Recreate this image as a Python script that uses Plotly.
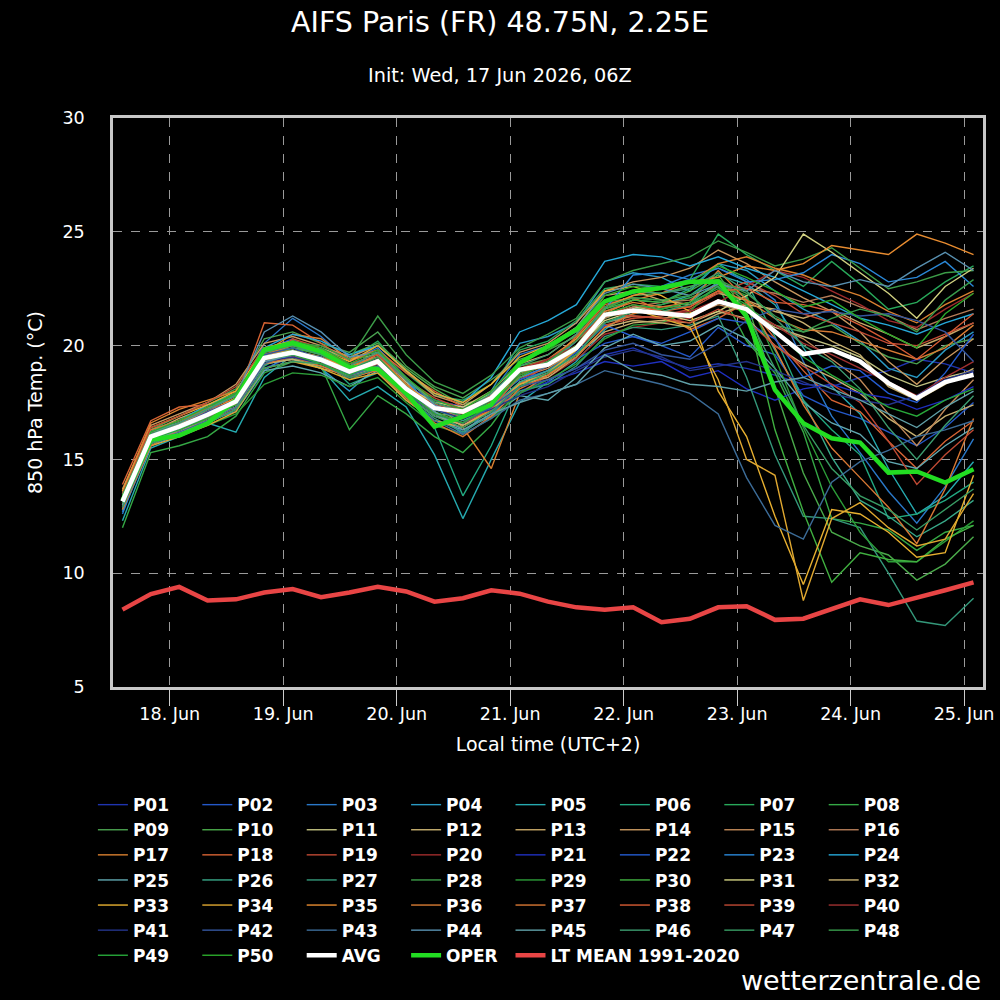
import plotly.graph_objects as go
import pandas as pd

# 6-hourly forecast steps (local time, UTC+2)
times = pd.date_range("2026-06-17 14:00", periods=31, freq="6h")

avg = [13.15, 16.0, 16.44, 16.96, 17.54, 19.45, 19.7, 19.38, 18.86, 19.3,
       18.1, 17.25, 17.1, 17.7, 18.94, 19.16, 19.89, 21.35, 21.54, 21.43,
       21.3, 21.94, 21.6, 20.62, 19.63, 19.82, 19.3, 18.35, 17.69, 18.4, 18.72]
oper = [13.2, 15.86, 16.05, 16.59, 17.62, 19.82, 20.11, 19.74, 19.05, 18.97,
        17.91, 16.44, 16.88, 17.4, 19.23, 19.96, 20.7, 21.94, 22.38, 22.53,
        22.8, 22.82, 21.28, 18.06, 16.59, 15.93, 15.74, 14.42, 14.47, 13.98, 14.57]
lt_mean = [8.4, 9.08, 9.4, 8.8, 8.85, 9.15, 9.3, 8.95, 9.15, 9.4,
           9.2, 8.75, 8.9, 9.25, 9.1, 8.75, 8.5, 8.4, 8.5, 7.85,
           8.0, 8.5, 8.55, 7.95, 8.0, 8.45, 8.85, 8.6, 8.9, 9.25, 9.6]

p01 = [13.0, 15.8, 16.3, 16.8, 17.4, 19.0, 19.5, 19.2, 18.6, 19.0, 17.8, 16.9, 16.6, 17.2, 18.0, 18.5, 19.0, 19.6, 19.9, 19.4, 19.0, 19.2, 19.0, 18.7, 18.3, 18.2, 18.6, 18.9, 19.4, 19.2, 18.8]
p02 = [13.4, 16.2, 16.6, 17.1, 17.9, 19.8, 20.3, 19.6, 19.0, 19.4, 18.2, 17.0, 16.2, 17.0, 18.3, 18.9, 19.4, 20.1, 20.4, 20.0, 19.5, 20.8, 20.0, 19.6, 17.8, 17.2, 16.8, 16.2, 15.6, 16.4, 17.5]
p03 = [12.6, 15.9, 16.6, 17.0, 17.6, 20.1, 21.2, 20.4, 19.3, 19.9, 18.6, 17.4, 16.8, 17.9, 19.6, 20.0, 20.6, 22.0, 22.3, 22.6, 23.1, 23.4, 22.9, 22.0, 19.3, 16.9, 15.3, 13.6, 12.2, 13.8, 15.9]
p04 = [13.6, 16.1, 16.5, 17.3, 17.2, 19.6, 19.4, 19.0, 18.0, 19.1, 18.4, 17.6, 17.2, 18.0, 20.1, 20.4, 21.0, 22.8, 23.2, 23.0, 22.4, 23.6, 23.3, 22.4, 21.6, 21.0, 20.2, 19.0, 18.6, 19.8, 20.6]
p05 = [12.3, 15.5, 16.0, 16.6, 16.2, 18.6, 19.6, 19.0, 17.6, 18.2, 17.3, 15.2, 12.4, 15.0, 17.5, 18.4, 19.3, 20.7, 21.6, 21.8, 22.2, 23.1, 22.7, 21.8, 19.9, 18.2, 17.0, 14.6, 12.6, 13.4, 14.9]
p06 = [13.1, 15.7, 16.2, 16.9, 17.4, 19.1, 19.8, 19.5, 18.3, 18.8, 17.9, 16.4, 13.4, 15.6, 18.4, 18.9, 19.8, 21.5, 22.0, 21.9, 22.5, 23.6, 22.8, 20.4, 17.6, 16.3, 15.2, 12.4, 12.6, 13.2, 14.0]
p07 = [13.3, 16.0, 16.5, 17.2, 17.8, 19.9, 20.0, 19.8, 19.4, 20.2, 18.8, 17.8, 17.6, 18.3, 19.8, 20.2, 21.1, 22.5, 22.7, 22.6, 22.9, 24.9, 24.0, 23.3, 22.6, 23.7, 22.7, 21.6, 21.9, 22.8, 23.5]
p08 = [12.0, 15.3, 15.6, 16.0, 16.9, 18.8, 19.3, 19.1, 16.3, 17.8, 17.0, 16.0, 15.3, 16.5, 18.2, 18.7, 19.5, 21.2, 21.6, 21.8, 22.1, 22.6, 20.2, 18.8, 16.2, 12.4, 12.2, 11.9, 11.0, 11.8, 12.1]
p09 = [13.5, 16.3, 16.9, 17.5, 18.1, 20.3, 20.6, 20.1, 19.7, 20.6, 19.1, 18.2, 17.7, 18.5, 19.4, 19.8, 20.4, 21.9, 22.1, 22.0, 21.8, 22.4, 21.7, 20.9, 20.6, 20.9, 20.1, 19.5, 19.2, 20.0, 20.3]
p10 = [13.0, 15.9, 16.4, 17.0, 17.6, 19.7, 19.9, 19.7, 19.6, 20.1, 19.0, 18.1, 17.4, 17.8, 19.1, 19.4, 20.3, 21.6, 22.2, 22.3, 22.6, 22.9, 21.9, 18.1, 14.4, 11.8, 11.2, 10.8, 9.7, 10.4, 11.6]
p11 = [13.2, 16.1, 16.6, 17.1, 17.5, 19.6, 19.8, 19.3, 19.1, 19.7, 18.4, 17.3, 17.0, 17.6, 18.8, 19.3, 20.2, 21.3, 21.7, 21.5, 21.4, 22.0, 21.5, 20.8, 20.4, 20.0, 19.5, 18.7, 18.2, 18.6, 18.9]
p12 = [12.8, 15.7, 16.2, 16.8, 17.3, 19.2, 19.4, 19.0, 18.7, 19.2, 18.0, 17.0, 16.5, 17.1, 18.4, 18.7, 19.6, 20.6, 21.0, 21.1, 21.0, 21.5, 21.2, 20.0, 19.2, 18.6, 17.9, 16.8, 16.0, 16.9, 17.4]
p13 = [13.3, 16.2, 16.8, 17.3, 17.9, 19.9, 20.2, 19.9, 19.4, 19.6, 18.5, 17.6, 17.3, 18.0, 19.2, 19.6, 20.5, 22.2, 22.4, 22.0, 21.8, 22.3, 22.0, 21.5, 21.2, 21.6, 21.0, 20.5, 19.9, 20.4, 21.0]
p14 = [13.7, 16.5, 17.0, 17.5, 18.3, 20.1, 20.4, 20.0, 19.5, 20.0, 18.9, 17.8, 17.4, 18.3, 19.7, 20.1, 21.0, 22.4, 22.8, 23.0, 23.4, 24.2, 23.6, 22.8, 22.1, 21.5, 20.6, 19.3, 18.3, 19.4, 20.3]
p15 = [13.2, 16.0, 16.4, 16.9, 17.6, 19.5, 19.6, 19.2, 18.8, 19.0, 17.9, 17.0, 16.9, 17.5, 18.6, 19.0, 19.8, 21.0, 21.3, 21.2, 21.3, 21.8, 21.5, 20.9, 20.3, 19.4, 18.5, 17.0, 15.6, 17.2, 18.5]
p16 = [12.9, 15.8, 16.3, 16.8, 17.3, 19.4, 19.5, 19.2, 18.7, 19.3, 18.3, 17.4, 17.2, 17.6, 18.9, 19.3, 20.0, 21.2, 21.7, 21.9, 22.0, 22.7, 22.5, 22.3, 21.9, 22.2, 21.7, 21.3, 20.7, 21.2, 21.6]
p17 = [13.6, 16.6, 17.2, 17.6, 18.0, 19.7, 20.5, 20.3, 19.4, 19.8, 18.6, 17.5, 16.4, 14.6, 17.9, 18.7, 19.9, 21.4, 22.0, 22.3, 22.8, 23.6, 23.9, 23.4, 23.1, 22.6, 22.2, 21.5, 21.0, 21.8, 22.4]
p18 = [13.9, 16.7, 17.3, 17.4, 17.6, 21.0, 20.9, 20.1, 19.3, 19.8, 18.8, 18.0, 17.3, 16.8, 18.3, 19.2, 20.4, 21.8, 22.1, 21.5, 20.7, 21.2, 21.9, 20.3, 18.9, 17.6, 17.1, 15.8, 14.6, 15.8, 16.7]
p19 = [13.0, 15.9, 16.2, 16.7, 17.2, 19.3, 20.3, 19.9, 18.6, 19.1, 18.2, 17.6, 17.1, 17.8, 18.5, 19.1, 19.9, 20.9, 21.2, 21.3, 21.6, 22.3, 22.8, 22.2, 21.4, 21.0, 20.6, 20.1, 20.0, 20.5, 21.0]
p20 = [13.1, 16.1, 16.6, 17.1, 17.7, 19.3, 19.6, 19.2, 18.8, 19.2, 18.1, 17.4, 17.0, 17.5, 18.2, 18.6, 19.4, 20.5, 20.8, 21.0, 21.2, 21.9, 22.6, 23.3, 23.0, 22.4, 21.8, 21.1, 20.8, 21.6, 22.3]
p21 = [13.3, 15.9, 16.4, 16.9, 17.5, 19.3, 19.6, 19.4, 18.8, 19.4, 18.2, 17.6, 17.3, 17.4, 17.9, 18.4, 18.8, 19.3, 19.1, 19.3, 18.6, 18.9, 18.1, 17.6, 18.1, 18.3, 17.9, 17.7, 17.2, 17.6, 18.2]
p22 = [13.2, 16.0, 16.3, 16.8, 17.6, 19.5, 19.8, 19.5, 18.9, 19.2, 18.0, 17.2, 16.9, 17.6, 18.5, 18.9, 19.7, 20.9, 20.4, 20.1, 20.6, 21.2, 21.0, 20.3, 18.6, 19.1, 18.9, 17.9, 17.5, 18.8, 20.5]
p23 = [12.7, 15.6, 16.1, 16.7, 17.1, 18.9, 19.7, 19.9, 19.2, 19.5, 18.5, 17.1, 16.1, 17.3, 18.6, 19.1, 20.2, 21.6, 23.1, 23.2, 22.9, 23.4, 22.8, 22.9, 23.2, 24.0, 23.6, 22.8, 23.0, 23.7, 22.6]
p24 = [13.4, 16.2, 16.7, 17.4, 17.9, 19.9, 20.5, 20.2, 19.6, 20.0, 18.9, 17.9, 17.5, 18.6, 20.6, 21.1, 21.8, 23.7, 24.0, 23.9, 23.5, 23.9, 23.4, 23.0, 22.4, 21.8, 21.2, 20.9, 20.5, 21.0, 21.4]
p25 = [13.0, 15.7, 16.2, 16.6, 17.2, 18.9, 19.1, 18.8, 18.2, 18.9, 17.6, 16.7, 16.3, 16.9, 17.8, 17.6, 18.6, 19.9, 20.5, 20.0, 20.2, 20.9, 20.3, 19.0, 17.5, 16.6, 16.1, 14.9, 14.6, 15.6, 16.4]
p26 = [13.5, 16.3, 16.7, 17.3, 17.9, 19.6, 19.9, 19.7, 19.0, 19.5, 18.3, 17.2, 16.7, 17.3, 18.4, 18.9, 19.6, 21.0, 21.4, 21.6, 21.9, 22.8, 22.1, 19.8, 17.6, 15.1, 13.2, 12.5, 11.6, 12.3, 13.2]
p27 = [12.8, 15.8, 16.4, 16.7, 17.3, 19.2, 19.4, 19.3, 18.5, 19.0, 17.7, 16.8, 16.2, 17.0, 18.0, 18.3, 19.1, 20.4, 20.8, 20.7, 20.9, 21.3, 18.6, 15.2, 12.5, 12.4, 12.0, 10.0, 7.9, 7.7, 8.9]
p28 = [13.4, 16.1, 16.6, 17.2, 17.9, 19.7, 20.1, 20.0, 19.4, 21.3, 19.6, 18.4, 17.9, 18.7, 19.9, 20.5, 21.2, 22.8, 23.3, 23.6, 23.9, 24.6, 24.1, 23.5, 23.8, 24.3, 23.4, 22.5, 22.8, 23.2, 23.3]
p29 = [13.1, 15.8, 16.1, 16.5, 17.0, 18.3, 18.8, 18.7, 18.2, 18.6, 17.5, 16.5, 16.1, 16.8, 17.9, 18.5, 19.2, 20.3, 20.9, 21.0, 21.5, 22.7, 22.2, 19.5, 16.4, 13.8, 11.8, 10.5, 10.5, 11.4, 12.3]
p30 = [13.2, 16.0, 16.4, 16.9, 17.5, 19.4, 19.9, 19.6, 18.9, 19.3, 18.0, 17.1, 16.6, 17.4, 18.6, 19.3, 20.0, 21.6, 22.0, 21.9, 22.4, 23.1, 21.5, 16.3, 12.7, 9.6, 10.9, 10.6, 10.5, 11.5, 12.1]
p31 = [13.3, 16.0, 16.5, 17.0, 17.4, 19.5, 19.7, 19.3, 18.9, 19.4, 18.2, 17.5, 17.3, 17.9, 19.0, 19.2, 19.9, 21.1, 21.5, 21.4, 21.1, 21.5, 22.2, 23.0, 24.9, 24.1, 23.2, 22.3, 21.2, 22.6, 23.4]
p32 = [13.0, 15.8, 16.2, 16.7, 17.3, 19.2, 19.4, 19.1, 18.7, 19.0, 17.8, 16.9, 16.5, 17.2, 18.3, 18.6, 19.5, 20.8, 21.1, 21.0, 20.8, 21.4, 21.8, 21.6, 21.0, 20.2, 19.6, 18.2, 17.6, 18.3, 19.0]
p33 = [13.6, 16.4, 16.9, 17.4, 18.0, 19.9, 20.2, 19.8, 19.3, 20.0, 18.9, 17.9, 17.5, 18.3, 19.5, 20.0, 20.8, 22.4, 22.6, 22.2, 21.5, 18.0, 16.0, 12.5, 9.5, 12.8, 12.6, 11.8, 10.7, 10.9, 14.3]
p34 = [12.9, 15.6, 16.0, 16.5, 17.1, 19.0, 19.3, 19.0, 18.5, 18.8, 17.6, 16.7, 16.4, 17.2, 18.3, 18.8, 19.8, 21.3, 21.6, 21.2, 20.8, 18.5, 15.0, 14.3, 8.8, 12.4, 13.1, 12.0, 11.2, 11.5, 13.5]
p35 = [13.2, 16.2, 16.6, 17.1, 17.7, 19.6, 19.8, 19.5, 19.0, 19.6, 18.3, 17.3, 16.8, 17.5, 18.8, 19.4, 20.3, 21.7, 22.2, 22.5, 22.8, 23.0, 23.5, 23.3, 23.6, 24.4, 24.2, 24.0, 24.9, 24.5, 24.0]
p36 = [13.4, 16.3, 16.7, 17.2, 17.8, 19.6, 20.0, 19.7, 19.1, 19.5, 18.3, 17.2, 17.0, 17.6, 18.8, 19.1, 20.0, 21.5, 21.9, 21.7, 21.7, 22.4, 22.0, 21.2, 20.7, 20.6, 20.2, 19.8, 19.4, 19.9, 20.9]
p37 = [12.8, 15.6, 16.3, 16.8, 17.5, 19.2, 19.5, 19.1, 18.6, 18.9, 17.7, 16.6, 16.0, 16.9, 18.1, 18.7, 19.5, 20.8, 21.4, 21.7, 21.9, 23.3, 22.0, 19.9, 17.4, 15.5, 14.2, 12.9, 11.3, 13.7, 16.8]
p38 = [13.1, 16.0, 16.6, 17.3, 17.4, 19.3, 19.7, 19.4, 18.9, 19.2, 18.1, 17.0, 16.6, 17.2, 18.7, 19.2, 20.0, 21.3, 21.8, 21.5, 21.7, 22.4, 22.5, 21.9, 21.8, 21.5, 20.9, 20.2, 19.4, 20.4, 21.4]
p39 = [13.5, 16.4, 16.9, 17.5, 18.2, 19.9, 20.1, 19.8, 19.2, 19.6, 18.5, 17.7, 17.2, 17.8, 19.0, 19.4, 20.2, 21.4, 21.3, 21.2, 21.0, 21.6, 21.1, 20.0, 19.1, 18.3, 17.5, 15.8, 13.9, 15.2, 16.3]
p40 = [13.0, 15.9, 16.4, 17.0, 17.6, 19.4, 19.7, 19.3, 18.9, 19.2, 18.1, 17.3, 17.1, 17.7, 18.9, 19.4, 20.0, 21.3, 21.6, 21.4, 21.5, 22.0, 21.6, 20.9, 20.1, 19.6, 19.0, 18.4, 17.8, 18.6, 19.3]
p41 = [13.1, 15.9, 16.4, 16.9, 17.5, 19.3, 19.5, 19.2, 18.6, 19.0, 17.9, 17.2, 16.8, 17.2, 17.8, 18.2, 18.9, 19.5, 19.8, 19.5, 18.9, 19.1, 19.3, 18.9, 18.4, 17.9, 17.6, 17.4, 17.8, 18.5, 18.9]
p42 = [13.3, 16.1, 16.5, 17.1, 17.6, 19.6, 19.9, 19.4, 18.7, 19.1, 17.9, 17.0, 16.6, 17.3, 18.2, 18.5, 19.0, 19.8, 20.1, 19.6, 19.4, 20.1, 21.1, 21.6, 21.4, 21.5, 21.3, 21.4, 21.1, 20.6, 19.3]
p43 = [12.9, 15.7, 16.2, 16.7, 17.3, 19.2, 19.7, 19.5, 18.7, 19.1, 17.8, 16.7, 16.1, 16.8, 17.6, 17.9, 18.3, 18.9, 18.6, 18.3, 17.9, 17.0, 14.2, 12.1, 11.5, 14.0, 14.9, 15.4, 16.0, 16.3, 16.7]
p44 = [13.4, 16.2, 16.6, 17.2, 17.8, 20.6, 21.3, 20.6, 19.5, 19.7, 18.6, 17.4, 16.9, 17.7, 19.3, 19.9, 20.8, 22.3, 22.7, 22.5, 22.2, 22.7, 22.4, 23.3, 22.8, 22.6, 22.9, 22.6, 23.4, 24.1, 23.3]
p45 = [13.0, 15.8, 16.3, 16.9, 17.5, 19.3, 19.6, 19.3, 18.8, 19.3, 18.1, 17.1, 16.3, 17.0, 17.5, 17.9, 18.3, 19.6, 18.9, 18.7, 18.3, 18.2, 18.0, 18.4, 18.6, 18.1, 17.6, 17.0, 16.4, 17.3, 18.0]
p46 = [13.3, 16.1, 16.6, 17.2, 17.8, 19.7, 20.0, 19.6, 19.1, 19.7, 18.5, 17.5, 17.1, 17.9, 19.1, 19.6, 20.5, 22.0, 22.4, 22.3, 22.5, 23.2, 22.4, 21.2, 20.0, 19.3, 18.1, 16.4, 15.0, 16.5, 17.8]
p47 = [12.9, 15.7, 16.1, 16.6, 17.2, 19.0, 19.3, 19.2, 18.6, 19.0, 17.8, 16.9, 16.4, 17.1, 18.2, 18.8, 19.6, 21.0, 21.5, 21.5, 21.8, 22.6, 21.4, 19.0, 16.5, 14.6, 13.4, 12.8, 11.9, 12.8, 13.7]
p48 = [13.2, 16.0, 16.5, 17.0, 17.6, 19.5, 19.8, 19.4, 18.9, 19.5, 18.2, 17.3, 16.9, 17.6, 18.8, 19.3, 20.2, 21.7, 22.1, 22.0, 22.2, 22.9, 22.3, 21.3, 20.6, 21.2, 21.6, 21.3, 20.6, 22.0, 22.9]
p49 = [13.1, 15.9, 16.3, 16.8, 17.4, 19.4, 19.6, 19.2, 18.7, 19.3, 18.0, 17.0, 16.6, 17.4, 18.7, 19.2, 20.0, 21.4, 21.8, 21.6, 21.9, 22.5, 21.8, 20.6, 19.5, 18.7, 18.0, 17.3, 16.9, 17.6, 18.1]
p50 = [13.4, 16.2, 16.7, 17.3, 17.9, 19.8, 20.2, 19.9, 19.2, 19.8, 18.6, 17.6, 17.2, 18.0, 19.3, 19.8, 20.7, 22.2, 22.6, 22.5, 22.8, 23.5, 23.0, 22.4, 21.7, 22.0, 21.2, 20.5, 19.9, 21.4, 22.3]

member_names = ["P%02d" % k for k in range(1, 51)]
member_values = [p01, p02, p03, p04, p05, p06, p07, p08, p09, p10,
                 p11, p12, p13, p14, p15, p16, p17, p18, p19, p20,
                 p21, p22, p23, p24, p25, p26, p27, p28, p29, p30,
                 p31, p32, p33, p34, p35, p36, p37, p38, p39, p40,
                 p41, p42, p43, p44, p45, p46, p47, p48, p49, p50]
member_colors = [
    "#1f34b0", "#2458c8", "#2a78c8", "#2a9ac4", "#26aab0", "#22a880", "#28a85a", "#35a845", "#4aa250", "#4aaa4a",
    "#c0c080", "#c8b070", "#c8a868", "#c89860", "#c08858", "#b47c58", "#d88030", "#d86434", "#c04a34", "#a02c2c",
    "#1f30c0", "#245cd0", "#2a88d8", "#26a8d8", "#60a8b0", "#38a888", "#34987a", "#3c9c48", "#2c9c38", "#40b040",
    "#d0d080", "#c8b070", "#e8b030", "#e0a830", "#e88c30", "#d87c34", "#d87834", "#d85c34", "#c04a34", "#a03030",
    "#24348a", "#34569e", "#3c6c98", "#5890b0", "#60a0a8", "#3c9c70", "#389c64", "#389c4c", "#28a83a", "#2caa2c",
]

for name, vals in zip(member_names, member_values):
    if len(vals) != len(times):
        raise ValueError(f"{name} has {len(vals)} values")

FONT = "DejaVu Sans"
fig = go.Figure()

for k, (name, vals, col) in enumerate(zip(member_names, member_values, member_colors)):
    fig.add_trace(go.Scatter(x=times, y=vals, mode="lines", name=name,
                             line=dict(color=col, width=1.4), legendrank=k + 1))

fig.add_trace(go.Scatter(x=times, y=lt_mean, mode="lines", name="LT MEAN 1991-2020",
                         line=dict(color="#e84545", width=4.5), legendrank=53))
fig.add_trace(go.Scatter(x=times, y=oper, mode="lines", name="OPER",
                         line=dict(color="#22dd22", width=4.5), legendrank=52))
fig.add_trace(go.Scatter(x=times, y=avg, mode="lines", name="AVG",
                         line=dict(color="#ffffff", width=4.5), legendrank=51))

fig.update_layout(
    width=1000, height=1000,
    paper_bgcolor="black", plot_bgcolor="black",
    margin=dict(l=113, r=17, t=118, b=313, autoexpand=False),
    font=dict(family=FONT, color="white", size=17),
    title=dict(text="AIFS Paris (FR) 48.75N, 2.25E", x=0.5, xref="container",
               y=0.978, yref="container", yanchor="middle",
               font=dict(family=FONT, size=28.5, color="white")),
    showlegend=True,
    legend=dict(orientation="h", xref="container", yref="container",
                x=0.0929, xanchor="left", y=0.2129, yanchor="top",
                entrywidth=59.4, entrywidthmode="pixels",
                font=dict(family=FONT, size=17, color="white", weight="bold"),
                bgcolor="rgba(0,0,0,0)", traceorder="normal"),
    annotations=[
        dict(text="Init: Wed, 17 Jun 2026, 06Z", xref="paper", yref="paper",
             x=(500 - 113) / 870, y=(687 - 75) / 569, xanchor="center", yanchor="middle",
             showarrow=False, font=dict(family=FONT, size=19.3, color="white")),
        dict(text="wetterzentrale.de", xref="paper", yref="paper",
             x=1.0, y=(687 - 980) / 569, xanchor="right", yanchor="middle",
             showarrow=False, font=dict(family=FONT, size=27, color="white")),
    ],
)

fig.update_xaxes(
    type="date", range=["2026-06-17 12:00", "2026-06-25 04:00"],
    tick0="2026-06-18", dtick=86400000, tickformat="%-d. %b",
    ticks="outside", ticklen=16, tickcolor="#cccccc", tickwidth=1.2,
    ticklabelstandoff=-7,
    tickfont=dict(family=FONT, size=17.5, color="white"),
    showgrid=True, gridcolor="#9a9a9a", griddash="dash", gridwidth=1,
    showline=True, linecolor="#c8c8c8", linewidth=2.5, mirror=True,
    zeroline=False,
    title=dict(text="Local time (UTC+2)", font=dict(family=FONT, size=19, color="white"), standoff=15),
)
fig.update_yaxes(
    range=[5, 30], dtick=5, tick0=5,
    ticks="outside", ticklen=22, tickcolor="rgba(0,0,0,0)",
    tickfont=dict(family=FONT, size=17.5, color="white"),
    showgrid=True, gridcolor="#9a9a9a", griddash="dash", gridwidth=1,
    showline=True, linecolor="#c8c8c8", linewidth=2.5, mirror=True,
    zeroline=False,
    title=dict(text="850 hPa Temp. (°C)", font=dict(family=FONT, size=19, color="white"), standoff=15),
)

fig.write_html("out.html")
